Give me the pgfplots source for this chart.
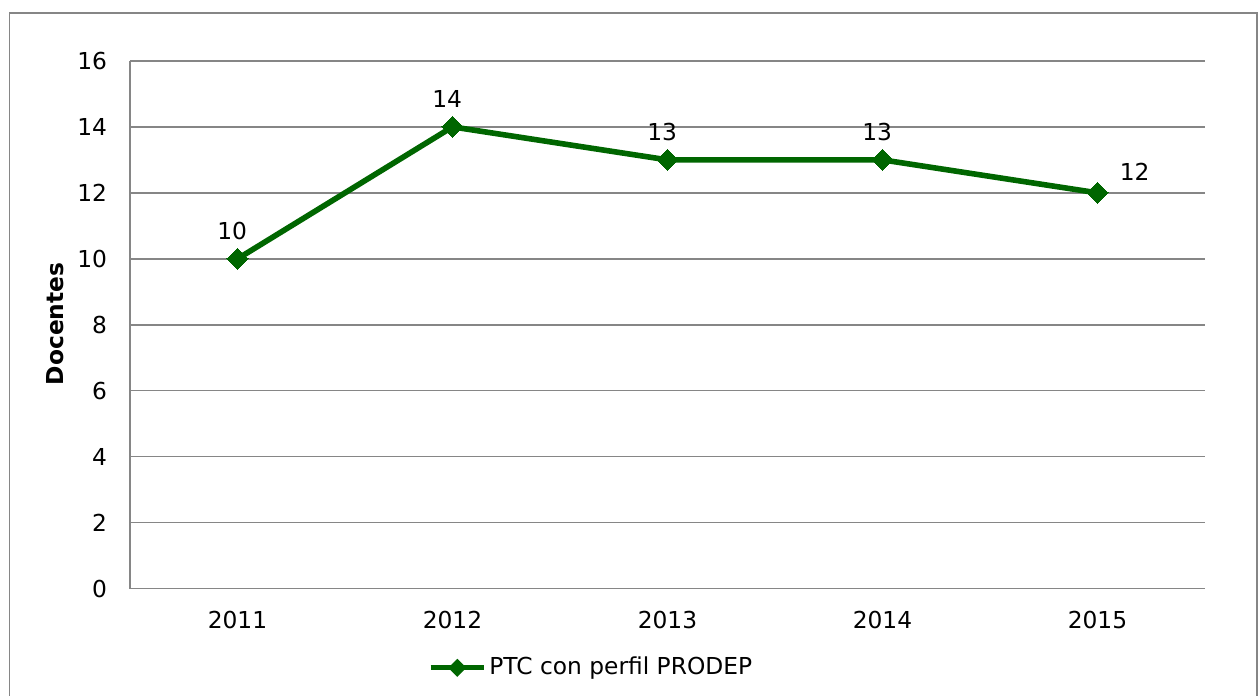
\documentclass[border=0pt]{standalone}
\usepackage{pgfplots}
\pgfplotsset{compat=1.18}
\usepackage{fontspec}
\setmainfont{DejaVu Sans}
\definecolor{lgreen}{RGB}{0,102,0}
\definecolor{lgray}{RGB}{134,134,134}
\newcommand{\fs}{\fontsize{17.5pt}{21pt}\selectfont}
\begin{document}
\fs
\begin{tikzpicture}
\useasboundingbox (0,0) rectangle (945pt,522pt);
\draw[lgray, line width=1.3pt] (7.1pt,-5pt) rectangle (943pt,512.25pt);
\begin{axis}[
  at={(97.5pt,80.5pt)}, anchor=south west,
  scale only axis, width=806.25pt, height=395.8pt,
  xmin=-0.5, xmax=4.5, ymin=0, ymax=16,
  xtick={0,1,2,3,4}, xticklabels={2011,2012,2013,2014,2015},
  ytick={0,2,...,16},
  axis x line*=bottom, axis y line*=left,
  axis line style={lgray, line width=1.1pt, -},
  major tick length=0pt,
  ymajorgrids, major grid style={lgray, line width=1.1pt},
  tick label style={font=\fs},
  /pgf/number format/assume math mode=true,
  yticklabel style={inner sep=0pt, xshift=-17pt},
  xticklabel style={inner sep=0pt, yshift=-17pt},
  ylabel={\bfseries Docentes},
  every axis y label/.style={at={(rel axis cs:-0.0698,0.5016)}, rotate=90, anchor=center, font=\fs},
  legend style={at={(rel axis cs:0.277,-0.150)}, anchor=west, draw=none, fill=none, inner sep=0pt,
    font=\fs, legend cell align=left},
  legend image code/.code={\draw[mark repeat=2, mark phase=2, line width=4pt, mark options={rotate=45, scale=0.5}] plot coordinates {(0pt,0pt)(20pt,0pt)(40pt,0pt)};},
  clip=false,
]
\addplot[lgreen, line width=4.2pt, mark=square*, mark size=5.6pt, mark options={rotate=45, solid, line width=0pt}]
  coordinates {(0,10) (1,14) (2,13) (3,13) (4,12)};
\addlegendentry{PTC con perfil PRODEP}
\addplot[draw=none, forget plot, nodes near coords, point meta=y,
  every node near coord/.style={anchor=south, inner sep=0pt, yshift=14pt, xshift=-4pt, font=\fs, text=black}]
  coordinates {(0,10) (1,14) (2,13) (3,13)};
\addplot[draw=none, forget plot, nodes near coords, point meta=y,
  every node near coord/.style={anchor=south west, inner sep=0pt, yshift=9.4pt, xshift=16.5pt, font=\fs, text=black}]
  coordinates {(4,12)};
\end{axis}
\end{tikzpicture}
\end{document}
